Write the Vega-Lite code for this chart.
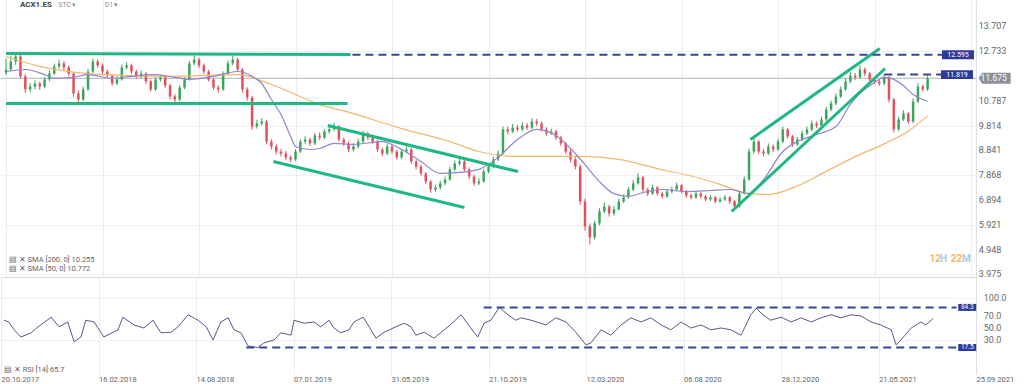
{
"$schema":"https://vega.github.io/schema/vega-lite/v6.json",
"padding":{"left":0,"top":0,"bottom":0,"right":9},"spacing":0,"bounds":"flush","background":"#ffffff",
"config":{"view":{"stroke":null},"font":"Roboto"},
"datasets":{
"ohlc":[
{"i":0,"o":11.9,"h":12.45,"l":11.8,"c":12.02},{"i":1,"o":12.02,"h":12.55,"l":11.95,"c":12.33},{"i":2,"o":12.33,"h":12.68,"l":12.2,"c":12.53},{"i":3,"o":12.53,"h":12.6,"l":11.65,"c":11.75},{"i":4,"o":11.75,"h":11.85,"l":11.1,"c":11.24},{"i":5,"o":11.24,"h":11.48,"l":11.12,"c":11.35},{"i":6,"o":11.35,"h":11.6,"l":11.25,"c":11.47},{"i":7,"o":11.47,"h":11.55,"l":11.22,"c":11.35},{"i":8,"o":11.35,"h":11.72,"l":11.28,"c":11.63},{"i":9,"o":11.63,"h":11.98,"l":11.55,"c":11.86},
{"i":10,"o":11.86,"h":12.25,"l":11.8,"c":12.14},{"i":11,"o":12.14,"h":12.4,"l":12.05,"c":12.26},{"i":12,"o":12.26,"h":12.35,"l":12.0,"c":12.1},{"i":13,"o":12.1,"h":12.18,"l":11.75,"c":11.86},{"i":14,"o":11.86,"h":11.92,"l":10.95,"c":11.08},{"i":15,"o":11.08,"h":11.2,"l":10.7,"c":10.84},{"i":16,"o":10.84,"h":11.35,"l":10.78,"c":11.24},{"i":17,"o":11.24,"h":12.05,"l":11.18,"c":11.94},{"i":18,"o":11.94,"h":12.45,"l":11.88,"c":12.33},{"i":19,"o":12.33,"h":12.42,"l":12.08,"c":12.18},
{"i":20,"o":12.18,"h":12.25,"l":11.85,"c":11.94},{"i":21,"o":11.94,"h":12.02,"l":11.68,"c":11.78},{"i":22,"o":11.78,"h":11.85,"l":11.38,"c":11.47},{"i":23,"o":11.47,"h":11.75,"l":11.4,"c":11.63},{"i":24,"o":11.63,"h":12.22,"l":11.58,"c":12.1},{"i":25,"o":12.1,"h":12.3,"l":12.02,"c":12.18},{"i":26,"o":12.18,"h":12.25,"l":11.85,"c":11.94},{"i":27,"o":11.94,"h":12.02,"l":11.65,"c":11.75},{"i":28,"o":11.75,"h":11.98,"l":11.68,"c":11.86},{"i":29,"o":11.86,"h":11.92,"l":11.45,"c":11.55},
{"i":30,"o":11.55,"h":11.62,"l":11.15,"c":11.24},{"i":31,"o":11.24,"h":11.72,"l":11.18,"c":11.63},{"i":32,"o":11.63,"h":11.82,"l":11.55,"c":11.71},{"i":33,"o":11.71,"h":11.78,"l":11.3,"c":11.39},{"i":34,"o":11.39,"h":11.45,"l":10.85,"c":10.96},{"i":35,"o":10.96,"h":11.05,"l":10.7,"c":10.84},{"i":36,"o":10.84,"h":11.4,"l":10.78,"c":11.31},{"i":37,"o":11.31,"h":11.72,"l":11.25,"c":11.63},{"i":38,"o":11.63,"h":12.35,"l":11.58,"c":12.26},{"i":39,"o":12.26,"h":12.55,"l":12.18,"c":12.41},
{"i":40,"o":12.41,"h":12.48,"l":12.08,"c":12.18},{"i":41,"o":12.18,"h":12.25,"l":11.85,"c":11.94},{"i":42,"o":11.94,"h":12.0,"l":11.55,"c":11.63},{"i":43,"o":11.63,"h":11.7,"l":11.22,"c":11.31},{"i":44,"o":11.31,"h":11.4,"l":11.1,"c":11.24},{"i":45,"o":11.24,"h":11.95,"l":11.18,"c":11.86},{"i":46,"o":11.86,"h":12.38,"l":11.8,"c":12.26},{"i":47,"o":12.26,"h":12.55,"l":12.18,"c":12.41},{"i":48,"o":12.41,"h":12.48,"l":11.92,"c":12.02},{"i":49,"o":12.02,"h":12.08,"l":11.12,"c":11.24},
{"i":50,"o":11.24,"h":11.32,"l":10.8,"c":10.92},{"i":51,"o":10.92,"h":10.98,"l":9.65,"c":9.78},{"i":52,"o":9.78,"h":10.05,"l":9.7,"c":9.9},{"i":53,"o":9.9,"h":10.12,"l":9.82,"c":9.98},{"i":54,"o":9.98,"h":10.05,"l":9.08,"c":9.19},{"i":55,"o":9.19,"h":9.28,"l":8.88,"c":9.0},{"i":56,"o":9.0,"h":9.08,"l":8.68,"c":8.8},{"i":57,"o":8.8,"h":8.9,"l":8.6,"c":8.72},{"i":58,"o":8.72,"h":8.82,"l":8.45,"c":8.57},{"i":59,"o":8.57,"h":8.65,"l":8.38,"c":8.49},
{"i":60,"o":8.49,"h":8.9,"l":8.42,"c":8.8},{"i":61,"o":8.8,"h":9.28,"l":8.74,"c":9.19},{"i":62,"o":9.19,"h":9.4,"l":9.1,"c":9.27},{"i":63,"o":9.27,"h":9.35,"l":9.02,"c":9.12},{"i":64,"o":9.12,"h":9.52,"l":9.05,"c":9.43},{"i":65,"o":9.43,"h":9.55,"l":9.25,"c":9.35},{"i":66,"o":9.35,"h":9.68,"l":9.28,"c":9.59},{"i":67,"o":9.59,"h":9.8,"l":9.5,"c":9.67},{"i":68,"o":9.67,"h":9.92,"l":9.6,"c":9.78},{"i":69,"o":9.78,"h":9.84,"l":9.18,"c":9.27},
{"i":70,"o":9.27,"h":9.35,"l":9.02,"c":9.12},{"i":71,"o":9.12,"h":9.2,"l":8.78,"c":8.88},{"i":72,"o":8.88,"h":9.12,"l":8.8,"c":9.0},{"i":73,"o":9.0,"h":9.3,"l":8.92,"c":9.19},{"i":74,"o":9.19,"h":9.62,"l":9.12,"c":9.51},{"i":75,"o":9.51,"h":9.58,"l":9.25,"c":9.35},{"i":76,"o":9.35,"h":9.42,"l":9.1,"c":9.19},{"i":77,"o":9.19,"h":9.25,"l":8.78,"c":8.88},{"i":78,"o":8.88,"h":8.95,"l":8.62,"c":8.72},{"i":79,"o":8.72,"h":9.1,"l":8.65,"c":9.0},
{"i":80,"o":9.0,"h":9.08,"l":8.7,"c":8.8},{"i":81,"o":8.8,"h":8.88,"l":8.48,"c":8.57},{"i":82,"o":8.57,"h":8.9,"l":8.5,"c":8.8},{"i":83,"o":8.8,"h":9.0,"l":8.72,"c":8.88},{"i":84,"o":8.88,"h":8.95,"l":8.32,"c":8.41},{"i":85,"o":8.41,"h":8.48,"l":8.1,"c":8.21},{"i":86,"o":8.21,"h":8.28,"l":7.85,"c":7.94},{"i":87,"o":7.94,"h":8.0,"l":7.52,"c":7.62},{"i":88,"o":7.62,"h":7.68,"l":7.18,"c":7.31},{"i":89,"o":7.31,"h":7.5,"l":7.22,"c":7.39},
{"i":90,"o":7.39,"h":7.65,"l":7.3,"c":7.55},{"i":91,"o":7.55,"h":7.82,"l":7.48,"c":7.7},{"i":92,"o":7.7,"h":8.2,"l":7.65,"c":8.1},{"i":93,"o":8.1,"h":8.45,"l":8.02,"c":8.33},{"i":94,"o":8.33,"h":8.55,"l":8.25,"c":8.41},{"i":95,"o":8.41,"h":8.48,"l":8.0,"c":8.1},{"i":96,"o":8.1,"h":8.18,"l":7.72,"c":7.82},{"i":97,"o":7.82,"h":7.9,"l":7.45,"c":7.55},{"i":98,"o":7.55,"h":7.75,"l":7.48,"c":7.62},{"i":99,"o":7.62,"h":8.12,"l":7.58,"c":8.02},
{"i":100,"o":8.02,"h":8.32,"l":7.95,"c":8.21},{"i":101,"o":8.21,"h":8.6,"l":8.15,"c":8.49},{"i":102,"o":8.49,"h":8.85,"l":8.42,"c":8.72},{"i":103,"o":8.72,"h":9.78,"l":8.68,"c":9.67},{"i":104,"o":9.67,"h":9.78,"l":9.48,"c":9.59},{"i":105,"o":9.59,"h":9.88,"l":9.52,"c":9.74},{"i":106,"o":9.74,"h":9.85,"l":9.58,"c":9.67},{"i":107,"o":9.67,"h":9.95,"l":9.6,"c":9.82},{"i":108,"o":9.82,"h":9.92,"l":9.65,"c":9.74},{"i":109,"o":9.74,"h":10.1,"l":9.68,"c":9.98},
{"i":110,"o":9.98,"h":10.08,"l":9.8,"c":9.9},{"i":111,"o":9.9,"h":9.98,"l":9.58,"c":9.67},{"i":112,"o":9.67,"h":9.75,"l":9.42,"c":9.51},{"i":113,"o":9.51,"h":9.7,"l":9.45,"c":9.59},{"i":114,"o":9.59,"h":9.65,"l":9.25,"c":9.35},{"i":115,"o":9.35,"h":9.42,"l":9.02,"c":9.12},{"i":116,"o":9.12,"h":9.18,"l":8.7,"c":8.8},{"i":117,"o":8.8,"h":8.88,"l":8.38,"c":8.49},{"i":118,"o":8.49,"h":8.58,"l":8.1,"c":8.21},{"i":119,"o":8.21,"h":8.28,"l":6.7,"c":6.84},
{"i":120,"o":6.84,"h":6.95,"l":5.7,"c":5.86},{"i":121,"o":5.86,"h":5.98,"l":5.15,"c":5.43},{"i":122,"o":5.43,"h":6.1,"l":5.35,"c":5.98},{"i":123,"o":5.98,"h":6.58,"l":5.9,"c":6.45},{"i":124,"o":6.45,"h":6.8,"l":6.38,"c":6.64},{"i":125,"o":6.64,"h":6.72,"l":6.25,"c":6.37},{"i":126,"o":6.37,"h":6.65,"l":6.28,"c":6.53},{"i":127,"o":6.53,"h":6.95,"l":6.48,"c":6.84},{"i":128,"o":6.84,"h":7.12,"l":6.78,"c":7.0},{"i":129,"o":7.0,"h":7.42,"l":6.95,"c":7.31},
{"i":130,"o":7.31,"h":7.68,"l":7.25,"c":7.55},{"i":131,"o":7.55,"h":7.95,"l":7.5,"c":7.78},{"i":132,"o":7.78,"h":7.85,"l":7.22,"c":7.31},{"i":133,"o":7.31,"h":7.38,"l":7.05,"c":7.15},{"i":134,"o":7.15,"h":7.5,"l":7.1,"c":7.39},{"i":135,"o":7.39,"h":7.45,"l":7.06,"c":7.15},{"i":136,"o":7.15,"h":7.22,"l":6.95,"c":7.04},{"i":137,"o":7.04,"h":7.34,"l":6.98,"c":7.23},{"i":138,"o":7.23,"h":7.42,"l":7.16,"c":7.31},{"i":139,"o":7.31,"h":7.58,"l":7.24,"c":7.47},
{"i":140,"o":7.47,"h":7.52,"l":7.15,"c":7.23},{"i":141,"o":7.23,"h":7.3,"l":6.98,"c":7.07},{"i":142,"o":7.07,"h":7.15,"l":6.92,"c":7.0},{"i":143,"o":7.0,"h":7.25,"l":6.94,"c":7.15},{"i":144,"o":7.15,"h":7.22,"l":6.96,"c":7.04},{"i":145,"o":7.04,"h":7.1,"l":6.84,"c":6.92},{"i":146,"o":6.92,"h":7.1,"l":6.86,"c":7.0},{"i":147,"o":7.0,"h":7.06,"l":6.76,"c":6.84},{"i":148,"o":6.84,"h":7.02,"l":6.78,"c":6.92},{"i":149,"o":6.92,"h":7.1,"l":6.86,"c":7.0},
{"i":150,"o":7.0,"h":7.06,"l":6.74,"c":6.84},{"i":151,"o":6.84,"h":6.9,"l":6.52,"c":6.64},{"i":152,"o":6.64,"h":7.25,"l":6.6,"c":7.15},{"i":153,"o":7.15,"h":7.82,"l":7.1,"c":7.7},{"i":154,"o":7.7,"h":8.92,"l":7.65,"c":8.8},{"i":155,"o":8.8,"h":9.32,"l":8.72,"c":9.19},{"i":156,"o":9.19,"h":9.25,"l":8.7,"c":8.8},{"i":157,"o":8.8,"h":8.9,"l":8.62,"c":8.72},{"i":158,"o":8.72,"h":9.12,"l":8.66,"c":9.0},{"i":159,"o":9.0,"h":9.08,"l":8.78,"c":8.88},
{"i":160,"o":8.88,"h":9.3,"l":8.82,"c":9.19},{"i":161,"o":9.19,"h":9.78,"l":9.12,"c":9.67},{"i":162,"o":9.67,"h":9.72,"l":9.3,"c":9.39},{"i":163,"o":9.39,"h":9.45,"l":8.98,"c":9.08},{"i":164,"o":9.08,"h":9.38,"l":9.02,"c":9.27},{"i":165,"o":9.27,"h":9.62,"l":9.2,"c":9.51},{"i":166,"o":9.51,"h":9.78,"l":9.45,"c":9.67},{"i":167,"o":9.67,"h":10.02,"l":9.6,"c":9.9},{"i":168,"o":9.9,"h":9.98,"l":9.72,"c":9.82},{"i":169,"o":9.82,"h":10.18,"l":9.76,"c":10.06},
{"i":170,"o":10.06,"h":10.56,"l":10.0,"c":10.45},{"i":171,"o":10.45,"h":10.8,"l":10.38,"c":10.69},{"i":172,"o":10.69,"h":11.08,"l":10.62,"c":10.96},{"i":173,"o":10.96,"h":11.36,"l":10.9,"c":11.24},{"i":174,"o":11.24,"h":11.68,"l":11.18,"c":11.55},{"i":175,"o":11.55,"h":11.92,"l":11.48,"c":11.78},{"i":176,"o":11.78,"h":11.88,"l":11.6,"c":11.71},{"i":177,"o":11.71,"h":12.18,"l":11.65,"c":12.02},{"i":178,"o":12.02,"h":12.1,"l":11.76,"c":11.86},{"i":179,"o":11.86,"h":11.92,"l":11.55,"c":11.63},
{"i":180,"o":11.63,"h":11.72,"l":11.45,"c":11.55},{"i":181,"o":11.55,"h":11.62,"l":11.38,"c":11.47},{"i":182,"o":11.47,"h":11.82,"l":11.4,"c":11.71},{"i":183,"o":11.71,"h":11.76,"l":10.72,"c":10.84},{"i":184,"o":10.84,"h":10.9,"l":9.55,"c":9.67},{"i":185,"o":9.67,"h":10.18,"l":9.6,"c":10.06},{"i":186,"o":10.06,"h":10.42,"l":10.0,"c":10.29},{"i":187,"o":10.29,"h":10.35,"l":9.88,"c":9.98},{"i":188,"o":9.98,"h":10.88,"l":9.92,"c":10.76},{"i":189,"o":10.76,"h":11.48,"l":10.7,"c":11.35},
{"i":190,"o":11.35,"h":11.42,"l":11.15,"c":11.24},{"i":191,"o":11.24,"h":11.78,"l":11.18,"c":11.675}
],
"sma50":[
{"i":0,"v":11.94},{"i":4,"v":12.02},{"i":8,"v":11.82},{"i":10,"v":11.67},{"i":14,"v":11.71},{"i":17,"v":11.82},{"i":22,"v":11.67},{"i":26,"v":11.75},{"i":31,"v":11.82},{"i":35,"v":11.71},{"i":38,"v":11.63},{"i":43,"v":11.75},{"i":48,"v":11.94},{"i":51,"v":11.75},{"i":53,"v":11.47},{"i":55,"v":10.84},{"i":57,"v":10.25},{"i":59,"v":9.39},{"i":60,"v":9.0},{"i":63,"v":8.88},{"i":65,"v":8.92},{"i":68,"v":9.12},{"i":72,"v":9.08},{"i":78,"v":9.19},{"i":82,"v":8.88},{"i":86,"v":8.41},{"i":90,"v":7.94},{"i":94,"v":7.98},{"i":98,"v":8.1},{"i":102,"v":8.57},{"i":106,"v":9.27},{"i":110,"v":9.67},{"i":114,"v":9.43},{"i":117,"v":8.92},{"i":120,"v":8.29},{"i":123,"v":7.62},{"i":126,"v":7.15},{"i":129,"v":7.04},{"i":132,"v":7.19},{"i":136,"v":7.31},{"i":141,"v":7.23},{"i":146,"v":7.27},{"i":150,"v":7.31},{"i":154,"v":7.15},{"i":157,"v":7.7},{"i":161,"v":8.8},{"i":164,"v":9.19},{"i":168,"v":9.47},{"i":172,"v":9.78},{"i":175,"v":10.65},{"i":177,"v":11.08},{"i":180,"v":11.51},{"i":182,"v":11.71},{"i":184,"v":11.63},{"i":186,"v":11.39},{"i":188,"v":11.04},{"i":190,"v":10.84},{"i":191,"v":10.772}
],
"sma200":[
{"i":0,"v":12.53},{"i":7,"v":12.14},{"i":20,"v":11.82},{"i":34,"v":11.75},{"i":48,"v":11.82},{"i":55,"v":11.43},{"i":65,"v":10.65},{"i":72,"v":10.29},{"i":82,"v":9.7},{"i":92,"v":9.19},{"i":98,"v":8.8},{"i":105,"v":8.61},{"i":111,"v":8.61},{"i":119,"v":8.61},{"i":127,"v":8.49},{"i":135,"v":8.13},{"i":144,"v":7.74},{"i":148,"v":7.51},{"i":153,"v":7.19},{"i":158,"v":7.11},{"i":164,"v":7.45},{"i":170,"v":8.02},{"i":176,"v":8.6},{"i":182,"v":9.1},{"i":187,"v":9.6},{"i":191,"v":10.2}
],
"rsi":[
{"i":0.6,"r":63},{"i":1.6,"r":60},{"i":2.7,"r":47},{"i":4.1,"r":35},{"i":6.2,"r":42},{"i":7.6,"r":52},{"i":10.3,"r":68},{"i":11.9,"r":52},{"i":13.7,"r":60},{"i":15,"r":27},{"i":16.4,"r":35},{"i":17.4,"r":63},{"i":19.1,"r":60},{"i":21.1,"r":35},{"i":24,"r":47},{"i":25,"r":68},{"i":27.3,"r":55},{"i":29.3,"r":50},{"i":31.2,"r":63},{"i":32.8,"r":42},{"i":34.9,"r":43},{"i":36.3,"r":52},{"i":38.4,"r":72},{"i":40.4,"r":63},{"i":42.1,"r":52},{"i":43.5,"r":30},{"i":45.1,"r":60},{"i":46.6,"r":67},{"i":47.8,"r":47},{"i":49.2,"r":42},{"i":50.7,"r":20},{"i":52.7,"r":17.5},{"i":53.9,"r":25},{"i":56,"r":30},{"i":57.4,"r":42},{"i":59.5,"r":38},{"i":60.1,"r":63},{"i":62.2,"r":58},{"i":64.2,"r":60},{"i":65.6,"r":52},{"i":67.3,"r":63},{"i":68.3,"r":50},{"i":69.7,"r":42},{"i":71.4,"r":47},{"i":72.4,"r":60},{"i":74.3,"r":68},{"i":75.9,"r":47},{"i":76.9,"r":33},{"i":78.6,"r":43},{"i":81,"r":52},{"i":82.7,"r":58},{"i":84.1,"r":52},{"i":85.1,"r":38},{"i":86.8,"r":43},{"i":88.8,"r":33},{"i":91.7,"r":52},{"i":94.4,"r":72},{"i":97,"r":43},{"i":97.8,"r":35},{"i":99.1,"r":58},{"i":100.5,"r":63},{"i":102.2,"r":84.3},{"i":104,"r":72},{"i":105.6,"r":63},{"i":106.7,"r":67},{"i":108.7,"r":63},{"i":111.8,"r":55},{"i":113.8,"r":67},{"i":115.9,"r":60},{"i":117.9,"r":43},{"i":120,"r":22},{"i":121,"r":25},{"i":123.1,"r":47},{"i":125.1,"r":38},{"i":127.2,"r":55},{"i":129.2,"r":67},{"i":131.3,"r":60},{"i":133.3,"r":67},{"i":135.4,"r":55},{"i":137.4,"r":47},{"i":139.5,"r":60},{"i":141.5,"r":50},{"i":143.6,"r":55},{"i":145.6,"r":47},{"i":147.7,"r":50},{"i":149.7,"r":47},{"i":151.8,"r":38},{"i":153.8,"r":72},{"i":154.9,"r":83},{"i":156.3,"r":72},{"i":157.9,"r":63},{"i":160,"r":68},{"i":162.1,"r":60},{"i":164.1,"r":67},{"i":166.2,"r":60},{"i":168.2,"r":67},{"i":170.3,"r":72},{"i":172.3,"r":67},{"i":174.4,"r":72},{"i":176.4,"r":70},{"i":178.5,"r":60},{"i":180.5,"r":55},{"i":182.6,"r":47},{"i":183.6,"r":22},{"i":184.6,"r":30},{"i":186.7,"r":50},{"i":188.7,"r":60},{"i":189.7,"r":55},{"i":191.2,"r":65.7}
],
"green":[
{"g":1,"i":0,"v":12.647},{"g":1,"i":71.4,"v":12.608},
{"g":2,"i":0,"v":10.685},{"g":2,"i":70.8,"v":10.685},
{"g":3,"i":66.7,"v":9.822},{"g":3,"i":106.1,"v":8.016},
{"g":4,"i":55.4,"v":8.409},{"g":4,"i":95,"v":6.604},
{"g":5,"i":154.3,"v":9.272},{"g":5,"i":181.1,"v":12.843},
{"g":6,"i":150.4,"v":6.446},{"g":6,"i":182.2,"v":12.059}
],
"dash":[
{"g":"a","i":71.8,"v":12.595},{"g":"a","i":194,"v":12.595},
{"g":"b","i":182,"v":11.819},{"g":"b","i":194,"v":11.819}
],
"tags":[{"i":197.3,"v":12.595,"t":"12.595"},{"i":197.1,"v":11.819,"t":"11.819"}],
"ylab":[{"v":3.975,"t":"3.975"},{"v":4.948,"t":"4.948"},{"v":5.921,"t":"5.921"},{"v":6.894,"t":"6.894"},{"v":7.868,"t":"7.868"},{"v":8.841,"t":"8.841"},{"v":9.814,"t":"9.814"},{"v":10.787,"t":"10.787"},{"v":12.733,"t":"12.733"},{"v":13.707,"t":"13.707"}],
"rdash":[
{"g":"a","i":99,"r":84.3},{"g":"a","i":196,"r":84.3},
{"g":"b","i":50.3,"r":17.5},{"g":"b","i":196,"r":17.5}
],
"rtags":[{"i":198.2,"r":84.3,"t":"84.3"},{"i":198.2,"r":17.5,"t":"17.5"}],
"rlab":[{"r":100,"t":"100.0"},{"r":70,"t":"70.0"},{"r":50,"t":"50.0"},{"r":30,"t":"30.0"}],
"timer":[{"i":191.4,"v":4.58,"t":"12","c":"o"},{"i":193.6,"v":4.58,"t":"H","c":"b"},{"i":195.8,"v":4.58,"t":"22","c":"o"},{"i":198.15,"v":4.58,"t":"M","c":"b"}]
},
"vconcat":[
{"width":975,"height":277,
"layer":[
{"data":{"name":"ohlc"},"mark":{"type":"rule","strokeWidth":1},
 "encoding":{
  "x":{"field":"i","type":"quantitative","title":null,"scale":{"domain":[0,200],"nice":false,"zero":false},
       "axis":{"orient":"bottom","values":[0,20,40,60,80,100,120,140,160,180,200],"labels":false,"ticks":false,"grid":true,"gridColor":"#ececec","domain":true,"domainColor":"#d9d9d9"}},
  "y":{"field":"l","type":"quantitative","title":null,"scale":{"domain":[3.876,14.747],"nice":false,"zero":false},
       "axis":{"orient":"right","values":[3.975,4.948,5.921,6.894,7.868,8.841,9.814,10.787,12.733,13.707],"labels":false,"ticks":false,"grid":true,"gridColor":"#f0f0f0","domain":true,"domainColor":"#e0e0e0"}},
  "y2":{"field":"h"},
  "color":{"condition":{"test":"datum.c >= datum.o","value":"#3aa65a"},"value":"#e1515c"}}},
{"data":{"values":[{"v":11.675}]},"mark":{"type":"rule","color":"#9aa0a6","strokeWidth":0.8},
 "encoding":{"y":{"field":"v","type":"quantitative","title":null}}},
{"data":{"name":"ohlc"},"mark":{"type":"bar","size":2.5},
 "encoding":{
  "x":{"field":"i","type":"quantitative","title":null},
  "y":{"field":"o","type":"quantitative","title":null},
  "y2":{"field":"c"},
  "color":{"condition":{"test":"datum.c >= datum.o","value":"#3aa65a"},"value":"#e1515c"}}},
{"data":{"name":"sma200"},"mark":{"type":"line","color":"#f5b66c","strokeWidth":1.2,"interpolate":"monotone"},
 "encoding":{"x":{"field":"i","type":"quantitative","title":null},"y":{"field":"v","type":"quantitative","title":null}}},
{"data":{"name":"sma50"},"mark":{"type":"line","color":"#9484cc","strokeWidth":1.2,"interpolate":"monotone"},
 "encoding":{"x":{"field":"i","type":"quantitative","title":null},"y":{"field":"v","type":"quantitative","title":null}}},
{"data":{"name":"green"},"mark":{"type":"line","color":"#1fb883","strokeWidth":3},
 "encoding":{"x":{"field":"i","type":"quantitative","title":null},"y":{"field":"v","type":"quantitative","title":null},"detail":{"field":"g"}}},
{"data":{"name":"dash"},"mark":{"type":"line","color":"#3a4690","strokeWidth":2,"strokeDash":[8,5]},
 "encoding":{"x":{"field":"i","type":"quantitative","title":null},"y":{"field":"v","type":"quantitative","title":null},"detail":{"field":"g"}}},
{"data":{"name":"ylab"},"mark":{"type":"text","color":"#666666","fontSize":9,"align":"left","baseline":"middle"},
 "encoding":{"x":{"datum":201.6,"type":"quantitative"},"y":{"field":"v","type":"quantitative","title":null},"text":{"field":"t"}}},
{"data":{"name":"tags"},"mark":{"type":"point","shape":"M-1,-0.28H1V0.28H-1Z","size":1024,"filled":true,"opacity":1,"color":"#2f3b98","strokeWidth":0},
 "encoding":{"x":{"field":"i","type":"quantitative","title":null},"y":{"field":"v","type":"quantitative","title":null}}},
{"data":{"name":"tags"},"mark":{"type":"text","color":"#ffffff","fontSize":7,"align":"center","baseline":"middle"},
 "encoding":{"x":{"field":"i","type":"quantitative","title":null},"y":{"field":"v","type":"quantitative","title":null},"text":{"field":"t"}}},
{"data":{"values":[{"i":204.9,"v":11.675,"t":"11.675"}]},"mark":{"type":"point","shape":"M-1,0L-0.78,-0.34H1V0.34H-0.78Z","size":1024,"filled":true,"opacity":1,"color":"#8c9197","strokeWidth":0},
 "encoding":{"x":{"field":"i","type":"quantitative","title":null},"y":{"field":"v","type":"quantitative","title":null}}},
{"data":{"values":[{"i":204.7,"v":11.675,"t":"11.675"}]},"mark":{"type":"text","color":"#ffffff","fontSize":8.5,"align":"center","baseline":"middle"},
 "encoding":{"x":{"field":"i","type":"quantitative","title":null},"y":{"field":"v","type":"quantitative","title":null},"text":{"field":"t"}}},
{"data":{"values":[{"i":2.9,"v":14.55,"t":"ACX1.ES"}]},"mark":{"type":"text","color":"#444444","fontSize":8,"fontWeight":"bold","align":"left","baseline":"middle"},
 "encoding":{"x":{"field":"i","type":"quantitative","title":null},"y":{"field":"v","type":"quantitative","title":null},"text":{"field":"t"}}},
{"data":{"values":[{"i":10.9,"v":14.55,"t":"STC  ▾"},{"i":20.5,"v":14.55,"t":"D1  ▾"}]},"mark":{"type":"text","color":"#8a8a8a","fontSize":6.5,"align":"left","baseline":"middle"},
 "encoding":{"x":{"field":"i","type":"quantitative","title":null},"y":{"field":"v","type":"quantitative","title":null},"text":{"field":"t"}}},
{"data":{"values":[{"i":0.6,"v":4.543,"t":"▤ ✕ SMA [200,  0] 10.255"},{"i":0.6,"v":4.19,"t":"▤ ✕ SMA [50,  0] 10.772"}]},"mark":{"type":"text","color":"#666666","fontSize":7.5,"align":"left","baseline":"middle"},
 "encoding":{"x":{"field":"i","type":"quantitative","title":null},"y":{"field":"v","type":"quantitative","title":null},"text":{"field":"t"}}},
{"data":{"name":"timer"},"mark":{"type":"text","fontSize":10,"fontWeight":"bold","align":"left","baseline":"middle"},
 "encoding":{"x":{"field":"i","type":"quantitative","title":null},"y":{"field":"v","type":"quantitative","title":null},"text":{"field":"t"},
  "color":{"condition":{"test":"datum.c == 'o'","value":"#f6b867"},"value":"#a9c9ec"}}}
]},
{"width":975,"height":97,
"layer":[
{"data":{"name":"rsi"},"mark":{"type":"line","color":"#525c8a","strokeWidth":1},
 "encoding":{
  "x":{"field":"i","type":"quantitative","title":null,"scale":{"domain":[0,200],"nice":false,"zero":false},
       "axis":{"orient":"bottom","values":[0,20,40,60,80,100,120,140,160,180,200],"labelExpr":"['20.10.2017','16.02.2018','14.08.2018','07.01.2019','31.05.2019','21.10.2019','12.03.2020','06.08.2020','28.12.2020','21.05.2021','25.09.2021'][round(datum.value/20)]","labelAlign":"left","labelBaseline":"top","labelPadding":1,"labelFlush":false,"labelOverlap":false,"ticks":false,"grid":true,"gridColor":"#ececec","domain":false,"labelFont":"Roboto","labelFontSize":7.5,"labelColor":"#666666"}},
  "y":{"field":"r","type":"quantitative","title":null,"scale":{"domain":[-26.67,135],"nice":false,"zero":false},
       "axis":{"orient":"right","values":[30,50,70,100],"labels":false,"ticks":false,"grid":true,"gridColor":"#f0f0f0","domain":true,"domainColor":"#e0e0e0"}}}},
{"data":{"name":"rdash"},"mark":{"type":"line","color":"#3a4690","strokeWidth":2,"strokeDash":[8,5]},
 "encoding":{"x":{"field":"i","type":"quantitative","title":null},"y":{"field":"r","type":"quantitative","title":null},"detail":{"field":"g"}}},
{"data":{"name":"rlab"},"mark":{"type":"text","color":"#666666","fontSize":9,"align":"left","baseline":"middle"},
 "encoding":{"x":{"datum":201.6,"type":"quantitative"},"y":{"field":"r","type":"quantitative","title":null},"text":{"field":"t"}}},
{"data":{"name":"rtags"},"mark":{"type":"point","shape":"M-1,-0.39H1V0.39H-1Z","size":324,"filled":true,"opacity":1,"color":"#2f3b98","strokeWidth":0},
 "encoding":{"x":{"field":"i","type":"quantitative","title":null},"y":{"field":"r","type":"quantitative","title":null}}},
{"data":{"name":"rtags"},"mark":{"type":"text","color":"#ffffff","fontSize":6.5,"align":"center","baseline":"middle"},
 "encoding":{"x":{"field":"i","type":"quantitative","title":null},"y":{"field":"r","type":"quantitative","title":null},"text":{"field":"t"}}},
{"data":{"values":[{"i":0.6,"r":-20,"t":"▤ ✕ RSI [14] 65.7"}]},"mark":{"type":"text","color":"#666666","fontSize":7.5,"align":"left","baseline":"middle"},
 "encoding":{"x":{"field":"i","type":"quantitative","title":null},"y":{"field":"r","type":"quantitative","title":null},"text":{"field":"t"}}}
]}
]
}
